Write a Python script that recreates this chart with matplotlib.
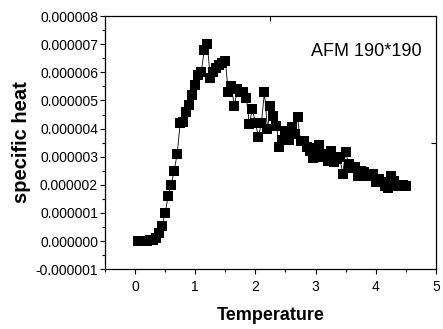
import matplotlib
matplotlib.use("Agg")
import matplotlib.pyplot as plt
from matplotlib.ticker import MultipleLocator, FixedLocator, FuncFormatter

plt.rcParams['font.family'] = ['Liberation Sans', 'DejaVu Sans']

temperature = [0.05, 0.1, 0.15, 0.2, 0.25, 0.3, 0.35, 0.4, 0.45, 0.5,
               0.55, 0.6, 0.65, 0.7, 0.75, 0.8, 0.85, 0.9, 0.95, 1.0,
               1.05, 1.1, 1.15, 1.2, 1.25, 1.3, 1.35, 1.4, 1.45, 1.5,
               1.55, 1.6, 1.65, 1.7, 1.75, 1.8, 1.85, 1.9, 1.95, 2.0,
               2.05, 2.1, 2.15, 2.2, 2.25, 2.3, 2.35, 2.4, 2.45, 2.5,
               2.55, 2.6, 2.65, 2.7, 2.75, 2.8, 2.85, 2.9, 2.95, 3.0,
               3.05, 3.1, 3.15, 3.2, 3.25, 3.3, 3.35, 3.4, 3.45, 3.5,
               3.55, 3.6, 3.65, 3.7, 3.75, 3.8, 3.85, 3.9, 3.95, 4.0,
               4.05, 4.1, 4.15, 4.2, 4.25, 4.3, 4.35, 4.4, 4.45, 4.5]
specific_heat_e6 = [0.0, 0.0, 0.0, 0.0, 0.02, 0.05, 0.12, 0.3, 0.55, 1.0,
                    1.6, 2.0, 2.5, 3.1, 4.2, 4.25, 4.6, 4.85, 5.2, 5.55,
                    5.9, 6.0, 6.8, 7.0, 5.8, 6.0, 6.15, 6.25, 6.35, 6.4,
                    5.3, 5.5, 4.8, 5.4, 5.3, 5.3, 5.1, 4.15, 4.7, 4.2,
                    3.7, 4.2, 5.3, 4.0, 4.8, 4.45, 4.1, 3.35, 3.6, 3.9,
                    3.6, 4.05, 3.8, 4.4, 3.55, 3.55, 3.35, 3.2, 2.95, 3.3,
                    3.4, 3.0, 3.1, 2.85, 3.2, 2.8, 2.9, 3.0, 2.4, 3.15,
                    2.75, 2.6, 2.65, 2.3, 2.5, 2.45, 2.3, 2.4, 2.4, 2.1,
                    2.2, 2.1, 1.95, 1.9, 2.3, 2.15, 1.95, 2.0, 2.0, 1.95]
specific_heat = [v * 1e-6 for v in specific_heat_e6]

x_ticks = [0, 1, 2, 3, 4, 5]
y_ticks = [-1e-6, 0, 1e-6, 2e-6, 3e-6, 4e-6, 5e-6, 6e-6, 7e-6, 8e-6]
annotation = "AFM 190*190"

fig = plt.figure(figsize=(4.43, 3.29), dpi=100)
ax = fig.add_axes([0.237, 0.182, 0.747, 0.769])

ax.plot(temperature, specific_heat, color='black', linewidth=0.6,
        marker='s', markersize=7, markerfacecolor='black',
        markeredgecolor='black', markeredgewidth=0)

ax.set_xlim(-0.5, 5)
ax.set_ylim(-1e-6, 8e-6)
ax.xaxis.set_major_locator(FixedLocator(x_ticks))
ax.xaxis.set_minor_locator(MultipleLocator(0.5))
ax.yaxis.set_major_locator(FixedLocator(y_ticks))
ax.yaxis.set_minor_locator(MultipleLocator(0.5e-6))
ax.yaxis.set_major_formatter(FuncFormatter(lambda v, p: f"{v:.6f}".replace("-0.000000", "0.000000")))
ax.xaxis.set_major_formatter(FuncFormatter(lambda v, p: f"{v:g}"))

ax.tick_params(axis='both', which='major', direction='out', length=3.5, width=0.8,
               labelsize=10, colors='black', pad=1.5)
ax.tick_params(axis='both', which='minor', direction='out', length=2, width=0.8)
ax.tick_params(axis='x', which='major', pad=4)

for s in ax.spines.values():
    s.set_linewidth(0.9)
    s.set_color('black')

# top/right single inward ticks at the centre (Origin style)
axt = ax.secondary_xaxis('top')
axt.set_xticks([2.25])
axt.tick_params(direction='in', length=3.5, width=0.8, labeltop=False)
axt.spines['top'].set_visible(False)
axr = ax.secondary_yaxis('right')
axr.set_yticks([3.5e-6])
axr.tick_params(direction='in', length=3.5, width=0.8, labelright=False)
axr.spines['right'].set_visible(False)

ax.set_xlabel("Temperature", fontsize=13, fontweight='bold', labelpad=10)
ax.set_ylabel("specific heat", fontsize=14.5, fontweight='bold', labelpad=3)

ax.text(2.92, 6.73e-6, annotation, fontsize=13, va='center', ha='left')

fig.savefig("out.png", dpi=100)
